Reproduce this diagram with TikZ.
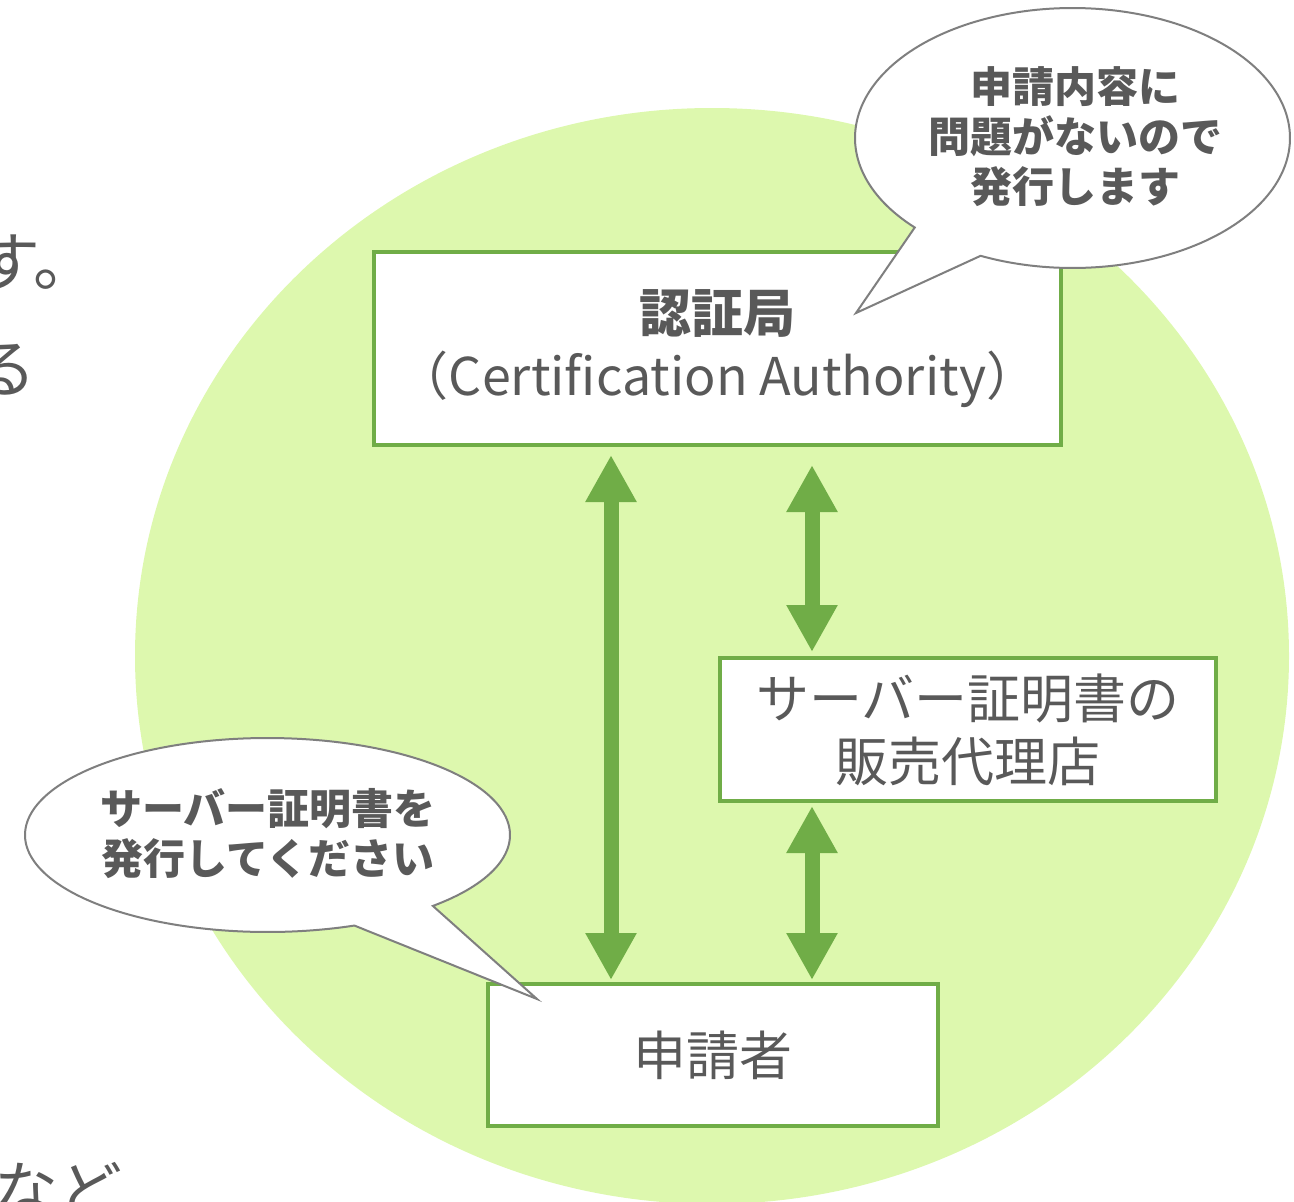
\documentclass[tikz,border=0pt]{standalone}
\usepackage{fontspec}
\setmainfont{Noto Sans CJK JP}
\usetikzlibrary{arrows.meta,calc}
\definecolor{circ}{HTML}{DDF8AE}
\definecolor{grn}{HTML}{70AD47}
\definecolor{txt}{HTML}{595959}
\definecolor{bubline}{HTML}{7F7F7F}
\tikzset{
  box/.style={draw=grn, line width=4pt, fill=white, text=txt, align=center, inner sep=0pt},
  dbl/.style={grn, line width=15pt, {Triangle[width=48pt,length=47pt]}-{Triangle[width=48pt,length=47pt]}},
  bub/.style={fill=white, draw=bubline, line width=2pt, line join=miter},
  bubtext/.style={text=txt, align=center, inner sep=0pt, font=\fontsize{42}{50}\selectfont\bfseries},
  frag/.style={text=txt, inner sep=0pt, anchor=base west, font=\fontsize{64}{64}\selectfont}
}
\begin{document}
\begin{tikzpicture}[x=1pt,y=-1pt]
\useasboundingbox (0,0) rectangle (1294,1202);
% background circle
\fill[circ] (712,656) ellipse [x radius=577pt, y radius=548pt];
% cut-off text fragments on the left
\node[frag] (f1) at (-24,285) {す。};
\node[frag] (f2) at (-28,392) {る};
\node[frag] (f3) at (-6,1214) {など};
% boxes
\node[box, minimum width=687pt, minimum height=193pt, font=\fontsize{52}{63}\selectfont] (ca) at (717.5,348.5)
  {{\bfseries 認証局}\\（Certification Authority）};
\node[box, minimum width=496pt, minimum height=143pt, font=\fontsize{53}{63}\selectfont] (sales) at (968,729.5)
  {サーバー証明書の\\販売代理店};
\node[box, minimum width=450pt, minimum height=142pt, font=\fontsize{53}{63}\selectfont] (app) at (713,1055)
  {申請者};
% arrows
\coordinate (ax) at (611,0);
\coordinate (bx) at (812,0);
\draw[dbl, shorten <=8pt, shorten >=2pt] (ax |- ca.south) -- (ax |- app.north);
\draw[dbl, shorten <=18pt, shorten >=4pt] (bx |- ca.south) -- (bx |- sales.north);
\draw[dbl, shorten <=3pt, shorten >=2pt] (bx |- sales.south) -- (bx |- app.north);
% speech bubbles
\draw[bub] plot[domain=136.5:475, samples=200, variable=\t]
  ({1072.5+217.5*cos(\t)},{138+130*sin(\t)}) -- (856,313) -- cycle;
\node[bubtext] (b1) at (1075,137) {申請内容に\\問題がないので\\発行します};
\draw[bub] plot[domain=69:407, samples=200, variable=\t]
  ({267.5+242.5*cos(\t)},{835+97*sin(\t)}) -- (537,999) -- cycle;
\node[bubtext] (b2) at (268,834) {サーバー証明書を\\発行してください};
\end{tikzpicture}
\end{document}
